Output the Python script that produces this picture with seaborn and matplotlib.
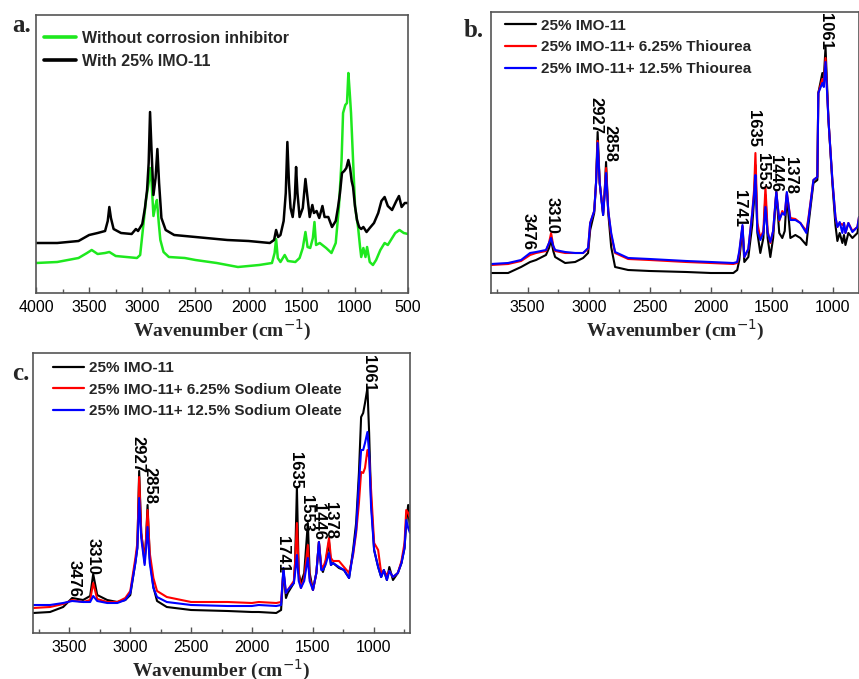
import matplotlib
matplotlib.use("Agg")
import matplotlib.pyplot as plt
import numpy as np
import pandas as pd
import seaborn as sns
from matplotlib.ticker import MultipleLocator

sns.set_theme(style="white")
plt.rcParams['font.family'] = ['Liberation Sans', 'DejaVu Sans']

# ---------------- Panel a data ----------------
wn_a_black = [4000, 3800, 3600, 3500, 3420, 3350, 3325, 3310, 3295, 3270, 3200, 3100, 3060, 3040, 3000,
              2975, 2955, 2940, 2927, 2912, 2895, 2875, 2858, 2842, 2820, 2780, 2700, 2500, 2200, 2000,
              1800, 1760, 1741, 1722, 1700, 1670, 1650, 1635, 1620, 1605, 1585, 1565, 1553, 1540, 1520,
              1490, 1465, 1445, 1425, 1400, 1385, 1360, 1335, 1305, 1285, 1250, 1215, 1180, 1158, 1140,
              1121, 1100, 1080, 1061, 1045, 1030, 1017, 1000, 980, 960, 940, 920, 890, 860, 820,
              780, 750, 720, 690, 650, 610, 585, 560, 530, 500]
black_a = [50, 50, 52, 58, 60, 62, 72, 86, 75, 64, 60, 59, 64, 62, 69,
           85, 103, 130, 181, 140, 98, 115, 144, 110, 75, 63, 58, 56, 53, 52,
           50, 53, 63, 56, 58, 72, 100, 151, 110, 85, 76, 95, 126, 100, 76,
           85, 114, 95, 76, 88, 80, 82, 75, 87, 76, 76, 66, 72, 86, 100,
           120, 122, 125, 133, 125, 112, 106, 88, 73, 66, 64, 66, 61, 65, 70,
           80, 92, 96, 87, 83, 92, 97, 86, 90, 90]
wn_a_green = [4000, 3800, 3600, 3520, 3476, 3420, 3350, 3310, 3250, 3150, 3050, 3020, 2995, 2965, 2940,
              2927, 2912, 2895, 2875, 2862, 2845, 2830, 2800, 2750, 2600, 2500, 2300, 2100, 1900, 1780,
              1755, 1741, 1725, 1700, 1660, 1630, 1560, 1520, 1490, 1465, 1445, 1420, 1395, 1380, 1365,
              1330, 1270, 1220, 1180, 1150, 1125, 1111, 1090, 1074, 1061, 1048, 1036, 1017, 998, 970,
              951, 940, 920, 900, 885, 860, 830, 800, 760, 720, 690, 620, 580, 540, 500]
green_a = [30, 31, 35, 40, 43, 39, 40, 41, 37, 36, 35, 38, 63, 93, 110,
           125, 110, 77, 88, 93, 70, 53, 41, 36, 35, 33, 30, 26, 28, 30,
           40, 54, 35, 31, 38, 32, 31, 35, 45, 61, 46, 45, 55, 71, 48,
           50, 45, 40, 50, 86, 133, 180, 188, 190, 220, 200, 180, 133, 86, 66,
           46, 36, 45, 36, 46, 31, 28, 33, 43, 50, 48, 60, 63, 60, 59]
labels_a = ["Without corrosion inhibitor", "With 25% IMO-11"]

# ---------------- Panel b data ----------------
wn_b = [3800, 3660, 3554, 3480, 3431, 3350, 3325, 3308, 3290, 3275, 3193, 3111, 3046, 3005, 2988,
        2955, 2940, 2927, 2910, 2882, 2870, 2858, 2840, 2816, 2784, 2677, 2500, 2200, 2000, 1816,
        1784, 1767, 1741, 1726, 1693, 1661, 1645, 1635, 1619, 1595, 1570, 1553, 1535, 1513, 1490,
        1464, 1440, 1415, 1395, 1378, 1349, 1308, 1267, 1218, 1201, 1160, 1128, 1120, 1087, 1075,
        1061, 1037, 1005, 980, 964, 945, 923, 910, 898, 874, 841, 800, 787]
black_b = [20, 20, 26, 31, 33, 38, 45, 53, 42, 36, 30, 31, 35, 40, 63,
           80, 110, 161, 110, 78, 100, 131, 80, 46, 26, 23, 22, 21, 20, 20,
           23, 33, 66, 31, 36, 68, 95, 128, 60, 40, 55, 98, 55, 36, 55,
           101, 60, 55, 62, 98, 55, 58, 55, 48, 68, 110, 113, 200, 220, 215,
           246, 173, 110, 68, 52, 60, 50, 58, 48, 60, 55, 60, 70]
red_b = [28, 29, 32, 38, 40, 42, 50, 60, 47, 42, 40, 40, 40, 44, 70,
         82, 110, 152, 110, 80, 100, 125, 82, 58, 40, 34, 33, 31, 30, 29,
         30, 40, 67, 36, 44, 80, 105, 140, 70, 55, 62, 106, 62, 50, 62,
         101, 72, 82, 78, 100, 75, 74, 70, 62, 75, 113, 116, 200, 214, 210,
         235, 173, 113, 76, 66, 70, 68, 70, 60, 70, 62, 66, 76]
blue_b = [29, 30, 33, 40, 41, 43, 50, 55, 47, 43, 41, 40, 40, 45, 70,
          82, 110, 150, 110, 78, 98, 120, 82, 60, 41, 35, 34, 32, 31, 30,
          31, 42, 68, 36, 44, 80, 100, 118, 62, 53, 60, 86, 60, 51, 62,
          101, 73, 80, 78, 101, 73, 73, 70, 60, 73, 113, 116, 200, 210, 206,
          231, 173, 113, 76, 66, 71, 60, 70, 60, 70, 61, 66, 76]
labels_b = ["25% IMO-11", "25% IMO-11+ 6.25% Thiourea", "25% IMO-11+ 12.5% Thiourea"]

# ---------------- Panel c data ----------------
wn_c = [3800, 3660, 3552, 3478, 3388, 3330, 3305, 3272, 3190, 3107, 3041, 3000, 2958, 2942, 2927,
        2910, 2882, 2870, 2858, 2840, 2810, 2780, 2700, 2500, 2200, 2000, 1944, 1800, 1760, 1741,
        1720, 1705, 1655, 1645, 1630, 1615, 1597, 1570, 1540, 1525, 1498, 1470, 1449, 1430, 1416,
        1395, 1366, 1350, 1333, 1284, 1243, 1201, 1168, 1143, 1120, 1102, 1085, 1070, 1050, 1036,
        1020, 995, 962, 937, 915, 890, 870, 840, 800, 770, 745, 731, 715, 700]
black_c = [20, 21, 26, 35, 33, 37, 59, 38, 33, 31, 33, 38, 71, 85, 162,
           100, 73, 95, 128, 75, 46, 32, 26, 23, 22, 21, 21, 20, 23, 63,
           35, 40, 50, 70, 146, 60, 50, 60, 110, 60, 43, 60, 91, 65, 61,
           70, 91, 68, 70, 65, 63, 55, 83, 110, 160, 216, 220, 230, 245, 200,
           133, 83, 66, 56, 63, 53, 66, 53, 60, 70, 85, 110, 128, 103]
red_c = [25, 26, 29, 33, 31, 33, 50, 34, 31, 31, 35, 42, 75, 90, 156,
         100, 70, 95, 123, 80, 55, 42, 36, 31, 31, 30, 31, 30, 31, 62,
         40, 43, 52, 70, 110, 60, 45, 55, 88, 55, 43, 60, 91, 68, 65,
         72, 95, 75, 72, 72, 66, 60, 78, 100, 130, 161, 160, 165, 183, 175,
         143, 90, 83, 60, 62, 58, 62, 56, 60, 72, 90, 123, 120, 115]
blue_c = [28, 28, 30, 32, 31, 31, 37, 32, 30, 30, 33, 40, 70, 85, 135,
          95, 68, 85, 106, 70, 45, 36, 31, 28, 27, 27, 28, 27, 28, 65,
          40, 43, 50, 60, 78, 52, 45, 52, 75, 52, 43, 60, 91, 63, 63,
          68, 80, 68, 70, 66, 63, 55, 80, 103, 150, 183, 183, 190, 201, 180,
          126, 83, 66, 56, 63, 53, 62, 56, 60, 70, 85, 113, 105, 100]
labels_c = ["25% IMO-11", "25% IMO-11+ 6.25% Sodium Oleate", "25% IMO-11+ 12.5% Sodium Oleate"]

# peak annotations
peak_text = ["3476", "3310", "2927", "2858", "1741", "1635", "1553", "1446", "1378", "1061"]
peak_x_b = [3497, 3300, 2939, 2825, 1767, 1652, 1578, 1472, 1349, 1062]
peak_top_b = [80, 96, 196, 168, 103, 183, 140, 138, 136, 280]
peak_x_c = [3462, 3305, 2934, 2835, 1746, 1639, 1548, 1449, 1350, 1045]
peak_top_c = [73, 95, 197, 166, 97, 181, 138, 130, 131, 278]


def long_df(wns, vals, labels):
    frames = []
    for w, v, l in zip(wns, vals, labels):
        frames.append(pd.DataFrame({"wn": w, "I": v, "series": l}))
    return pd.concat(frames, ignore_index=True)


W, H = 859, 679
fig = plt.figure(figsize=(W / 100, H / 100), dpi=100)


def axes_px(l, t, r, b):
    return fig.add_axes([l / W, 1 - b / H, (r - l) / W, (b - t) / H])


ax_a = axes_px(36, 15, 408, 293)
ax_b = axes_px(491, 12, 859, 293)
ax_c = axes_px(33, 353, 410, 633)

SERIF = ['Liberation Serif', 'DejaVu Serif']
SANS = ['Liberation Sans', 'DejaVu Sans']

df_a = long_df([wn_a_green, wn_a_black], [green_a, black_a], labels_a)
sns.lineplot(data=df_a, x="wn", y="I", hue="series", hue_order=labels_a,
             palette=["#1ee81e", "#000000"], linewidth=1.8, estimator=None,
             sort=False, ax=ax_a)

df_b = long_df([wn_b] * 3, [black_b, red_b, blue_b], labels_b)
sns.lineplot(data=df_b, x="wn", y="I", hue="series", hue_order=labels_b,
             palette=["#000000", "#ff0000", "#0000ff"], linewidth=1.5, estimator=None,
             sort=False, ax=ax_b)

df_c = long_df([wn_c] * 3, [black_c, red_c, blue_c], labels_c)
sns.lineplot(data=df_c, x="wn", y="I", hue="series", hue_order=labels_c,
             palette=["#000000", "#ff0000", "#0000ff"], linewidth=1.5, estimator=None,
             sort=False, ax=ax_c)

setup = [
    (ax_a, (4000, 500), 278, 0.0215, 0.944, 11.5, 0.5, 2.6),
    (ax_b, (3800, 787), 281, 0.038, 0.976, 11, 0.5, 1.6),
    (ax_c, (3800, 700), 280, 0.053, 0.971, 11, 0.5, 1.6),
]
for ax, xl, ytop, lx, ly, lfs, lsp, llw in setup:
    ax.set_xlim(*xl)
    ax.set_ylim(0, ytop)
    ax.set_yticks([])
    ax.set_ylabel("")
    ax.xaxis.set_major_locator(MultipleLocator(500))
    ax.xaxis.set_minor_locator(MultipleLocator(250))
    ax.tick_params(axis='x', which='both', direction='in', bottom=True, top=False,
                   colors='#000000', labelsize=11.5, pad=5)
    ax.tick_params(axis='x', which='major', length=4, width=1, color='#555555')
    ax.tick_params(axis='x', which='minor', length=3, width=1, color='#555555')
    for lab in ax.get_xticklabels():
        lab.set_family(SANS)
    for s in ax.spines.values():
        s.set_visible(True)
        s.set_color('#555555')
        s.set_linewidth(1.2)
    ax.set_xlabel("Wavenumber (cm$^{-1}$)", fontsize=14, fontweight='bold',
                  family=SERIF, labelpad=2)
    handles, labels = ax.get_legend_handles_labels()
    leg = ax.legend(handles, labels, loc='upper left', bbox_to_anchor=(lx, ly),
                    frameon=False, borderpad=0, borderaxespad=0, handlelength=2.0,
                    handletextpad=0.35, labelspacing=lsp,
                    prop={'family': SANS, 'weight': 'bold', 'size': lfs})
    for ln in leg.get_lines():
        ln.set_linewidth(llw)

ax_a.set_xticks([4000, 3500, 3000, 2500, 2000, 1500, 1000, 500])
ax_a.set_xticklabels(["4000", "3500", "3000", "2500", "2000", "1500", "1000", "500"])
for lab in ax_a.get_xticklabels():
    lab.set_family(SANS)

for ax, xs, tops in [(ax_b, peak_x_b, peak_top_b), (ax_c, peak_x_c, peak_top_c)]:
    for t, x, y in zip(peak_text, xs, tops):
        ax.text(x, y, t, rotation=270, ha='center', va='top', fontsize=12,
                family=SANS, fontweight='bold', color='black')

fig.text(12 / W, 1 - 32 / H, "a.", fontsize=18, fontweight='bold', family=SERIF,
         ha='left', va='baseline')
fig.text(464 / W, 1 - 37 / H, "b.", fontsize=18, fontweight='bold', family=SERIF,
         ha='left', va='baseline')
fig.text(12 / W, 1 - 380 / H, "c.", fontsize=18, fontweight='bold', family=SERIF,
         ha='left', va='baseline')

fig.savefig("out.png", dpi=100)
